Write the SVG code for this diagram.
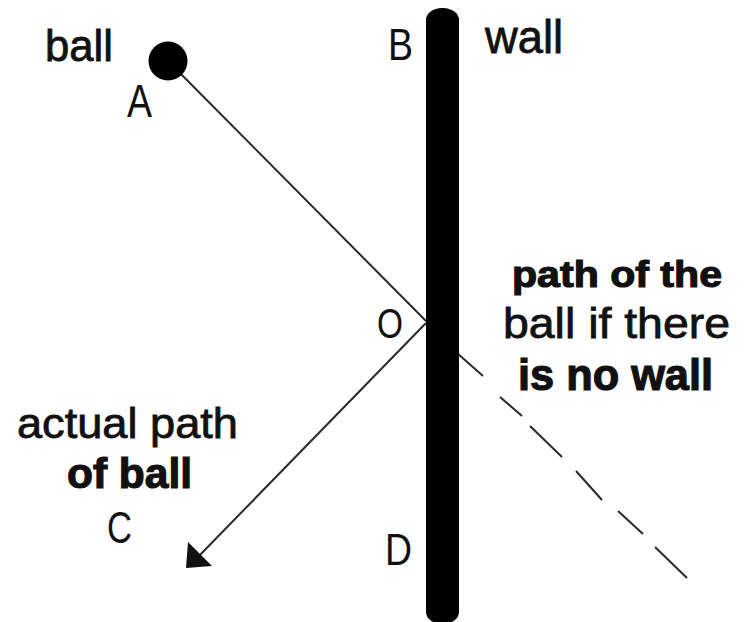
<svg xmlns="http://www.w3.org/2000/svg" width="745" height="622" viewBox="0 0 745 622">
<style>
  .lbl { font-family: "Liberation Sans", Arial, sans-serif; fill: #111; }
  .b { font-weight: bold; stroke: #111; stroke-width: 1.2; }
  .semi { stroke: #111; stroke-width: 0.8; }
  .ray { stroke: #2a2a2a; stroke-width: 2; fill: none; stroke-linecap: butt; }
</style>
<rect width="745" height="622" fill="#ffffff"/>
<g id="connectors">
  <line id="incoming" class="ray" x1="168" y1="61" x2="426" y2="321"/>
  <line id="reflected" class="ray" x1="426" y1="323" x2="197" y2="558"/>
  <polygon id="arrowhead" points="186,568 188,542 212,566" fill="#111"/>
  <g id="no-wall-path" class="ray">
    <line x1="457" y1="353" x2="483" y2="376"/>
    <line x1="500" y1="397" x2="522" y2="416"/>
    <line x1="530" y1="426" x2="562" y2="457"/>
    <line x1="576" y1="471" x2="602" y2="500"/>
    <line x1="618" y1="511" x2="643" y2="534"/>
    <line x1="655" y1="547" x2="687" y2="578"/>
  </g>
</g>
<g id="wall">
  <rect x="426" y="8" width="33" height="616" rx="16" ry="12" fill="#000"/>
</g>
<g id="ball">
  <circle cx="168" cy="61" r="19.5" fill="#000"/>
</g>
<g id="label-ball"><text class="lbl semi" x="45" y="61" font-size="44" textLength="68" lengthAdjust="spacingAndGlyphs">ball</text></g>
<g id="label-A"><text class="lbl" x="127" y="117" font-size="46" textLength="25" lengthAdjust="spacingAndGlyphs">A</text></g>
<g id="label-B"><text class="lbl" x="388" y="60" font-size="44" textLength="25" lengthAdjust="spacingAndGlyphs">B</text></g>
<g id="label-wall"><text class="lbl semi" x="485" y="53" font-size="47" textLength="78" lengthAdjust="spacingAndGlyphs">wall</text></g>
<g id="label-O"><text class="lbl" x="377" y="338" font-size="42" textLength="26" lengthAdjust="spacingAndGlyphs">O</text></g>
<g id="label-D"><text class="lbl" x="385" y="565" font-size="45" textLength="27" lengthAdjust="spacingAndGlyphs">D</text></g>
<g id="label-C"><text class="lbl" x="107" y="543" font-size="45" textLength="25" lengthAdjust="spacingAndGlyphs">C</text></g>
<g id="label-no-wall">
  <text class="lbl b" x="512" y="287" font-size="37" textLength="210" lengthAdjust="spacingAndGlyphs">path of the</text>
  <text class="lbl semi" x="503" y="338" font-size="43" textLength="227" lengthAdjust="spacingAndGlyphs">ball if there</text>
  <text class="lbl b" x="518" y="390" font-size="45" textLength="195" lengthAdjust="spacingAndGlyphs">is no wall</text>
</g>
<g id="label-actual">
  <text class="lbl semi" x="17" y="438" font-size="43" textLength="221" lengthAdjust="spacingAndGlyphs">actual path</text>
  <text class="lbl b" x="67" y="488" font-size="42" textLength="125" lengthAdjust="spacingAndGlyphs">of ball</text>
</g>
</svg>
